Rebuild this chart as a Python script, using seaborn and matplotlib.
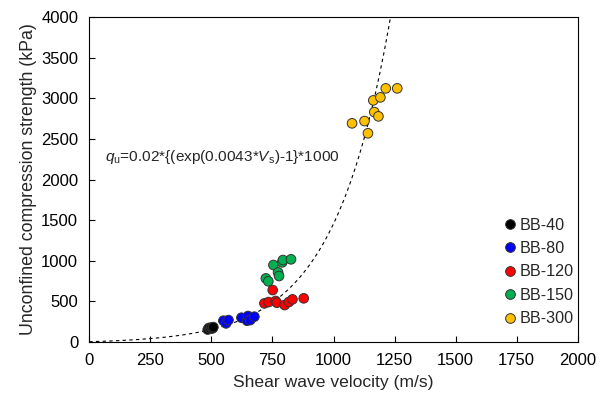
import matplotlib
matplotlib.use("Agg")
import matplotlib.pyplot as plt
import numpy as np
import pandas as pd
import seaborn as sns

# shear wave velocity (m/s) and unconfined compression strength (kPa) per mix
vs_bb40 = [485, 490, 496, 500, 505, 508]
qu_bb40 = [150, 170, 160, 175, 165, 180]

vs_bb80 = [549, 560, 570, 623, 646, 650, 659, 676]
qu_bb80 = [259, 226, 267, 296, 259, 317, 267, 309]

vs_bb120 = [717, 734, 751, 763, 768, 800, 817, 832, 878]
qu_bb120 = [473, 489, 637, 502, 481, 452, 489, 522, 535]

vs_bb150 = [723, 733, 754, 773, 777, 790, 793, 826]
qu_bb150 = [781, 745, 946, 855, 810, 979, 1007, 1016]

vs_bb300 = [1076, 1127, 1141, 1163, 1167, 1184, 1192, 1214, 1261]
qu_bb300 = [2693, 2721, 2570, 2976, 2832, 2779, 3013, 3124, 3124]

groups = ["BB-40", "BB-80", "BB-120", "BB-150", "BB-300"]
colors = ["#000000", "#0000ff", "#ff0000", "#00b050", "#ffc000"]

# fitted relation shown on the chart: qu = 0.02*(exp(0.0043*Vs)-1)*1000
fit_a = 0.02
fit_b = 0.0043

df = pd.DataFrame({
    "vs": vs_bb40 + vs_bb80 + vs_bb120 + vs_bb150 + vs_bb300,
    "qu": qu_bb40 + qu_bb80 + qu_bb120 + qu_bb150 + qu_bb300,
    "mix": (["BB-40"] * len(vs_bb40) + ["BB-80"] * len(vs_bb80)
            + ["BB-120"] * len(vs_bb120) + ["BB-150"] * len(vs_bb150)
            + ["BB-300"] * len(vs_bb300)),
})

sns.set_style("white")
plt.rcParams["font.family"] = ["Liberation Sans", "DejaVu Sans"]
plt.rcParams["mathtext.fontset"] = "custom"
plt.rcParams["mathtext.rm"] = "Liberation Sans"
plt.rcParams["mathtext.it"] = "Liberation Sans:italic"

fig = plt.figure(figsize=(6.13, 3.94), dpi=100)
ax = fig.add_axes([0.1457, 0.1327, 0.7967, 0.8233])

v_fit = np.linspace(0, 1240, 300)
q_fit = fit_a * (np.exp(fit_b * v_fit) - 1) * 1000
ax.plot(v_fit, q_fit, color="black", linestyle=(0, (3, 3)), linewidth=0.8, zorder=1)

sns.scatterplot(data=df, x="vs", y="qu", hue="mix", hue_order=groups,
                palette=dict(zip(groups, colors)), s=48, edgecolor="#333333",
                linewidth=0.7, ax=ax, zorder=3, legend=False)

handles = [plt.Line2D([], [], marker="o", linestyle="", markersize=7,
                      markerfacecolor=c, markeredgecolor="#333333", markeredgewidth=0.7)
           for c in colors]
ax.legend(handles, groups, loc="lower right", bbox_to_anchor=(1.021, 0.003),
          frameon=False, fontsize=11.6, handlelength=0.6, handletextpad=0.3,
          labelspacing=0.52)

ax.text(65, 2280, r"$q_\mathrm{u}$=0.02*{(exp(0.0043*$V_\mathrm{s}$)-1}*1000",
        fontsize=11.1, va="center")

ax.set_xlim(0, 2000)
ax.set_ylim(0, 4000)
ax.set_xticks(np.arange(0, 2001, 250))
ax.set_yticks(np.arange(0, 4001, 500))
ax.tick_params(direction="in", length=4, width=0.8, labelsize=12, colors="black",
               bottom=True, left=True, pad=8)
for sp in ax.spines.values():
    sp.set_color("black")
    sp.set_linewidth(0.8)

ax.set_xlabel("Shear wave velocity (m/s)", fontsize=12.6, labelpad=5)
ax.set_ylabel("Unconfined compression strength (kPa)", fontsize=12.8, labelpad=3)

fig.savefig("out.png", dpi=100)
